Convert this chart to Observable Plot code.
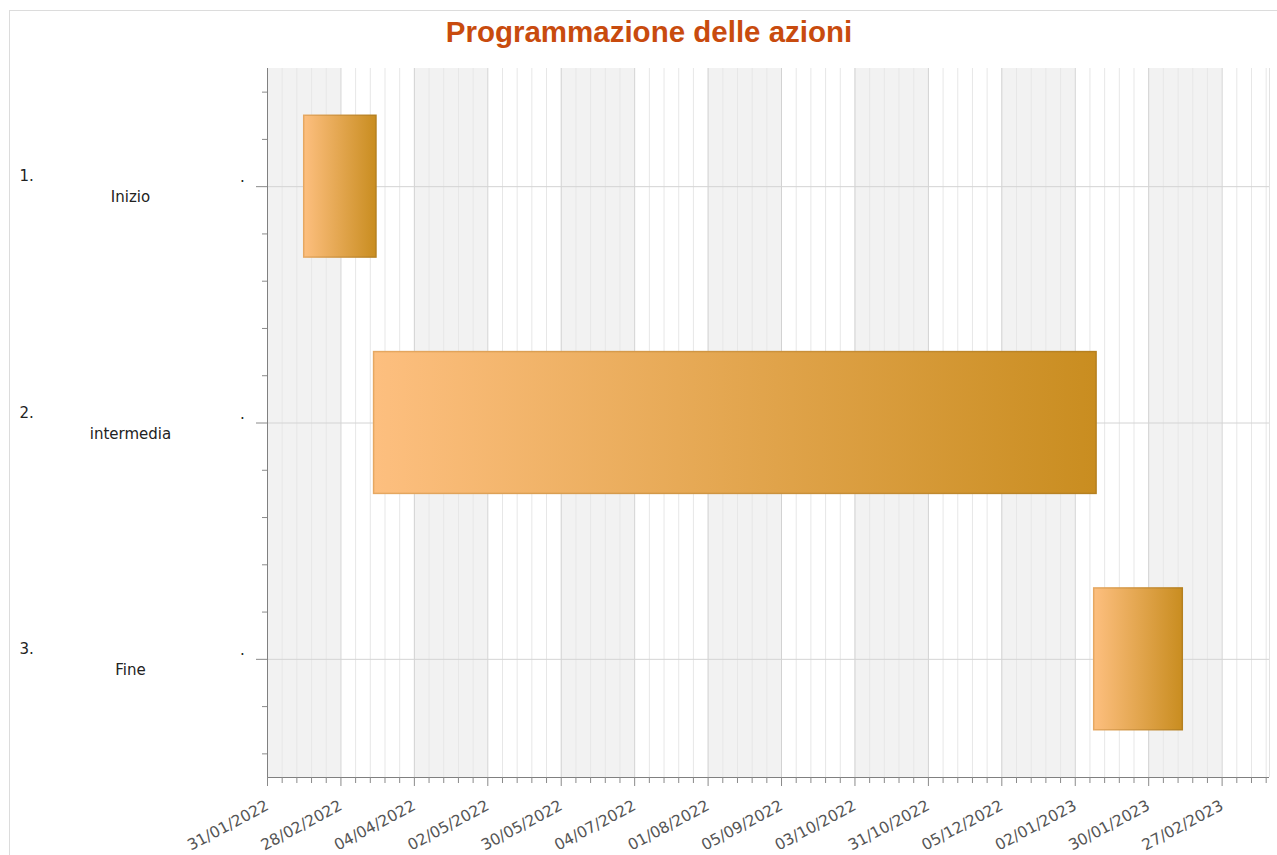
<!DOCTYPE html>
<html><head><meta charset="utf-8">
<script src="https://cdn.jsdelivr.net/npm/d3@7"></script>
<script src="https://cdn.jsdelivr.net/npm/@observablehq/plot@0.6"></script>
<style>
body{margin:0;background:#fff;}
#wrap{position:relative;width:1277px;height:855px;overflow:hidden;background:#fff;}
#frame{position:absolute;left:9px;top:10px;width:1300px;height:900px;border-top:1px solid #dcdcdc;border-left:1px solid #dcdcdc;pointer-events:none;}
#title{height:55px;box-sizing:border-box;padding-top:17px;padding-left:21px;text-align:center;font:bold 29.5px "Liberation Sans",Arial,sans-serif;color:#c84b0e;line-height:1;}
#chart svg{display:block;}
</style></head><body>
<div id="wrap"><div id="frame"></div><div id="title">Programmazione delle azioni</div><div id="chart"></div></div>
<script>
// ---- data ----
const taskNumbers = ["1.", "2.", "3."];
const taskNames = ["Inizio", "intermedia", "Fine"];
const startDates = ["2022-02-15", "2022-03-15", "2023-01-09"];
const endDates = ["2022-03-16", "2023-01-10", "2023-02-14"];
const tickLabels = ["31/01/2022","28/02/2022","04/04/2022","02/05/2022","30/05/2022","04/07/2022","01/08/2022","05/09/2022","03/10/2022","31/10/2022","05/12/2022","02/01/2023","30/01/2023","27/02/2023"];
const axisStart = "2022-02-01";
const axisEnd = "2023-03-21";

// the source axis gives every month the same width: convert dates to month positions
function toMonths(s) {
  const [y, m, d] = s.split("-").map(Number);
  const [y0, m0] = axisStart.split("-").map(Number);
  const days = new Date(y, m, 0).getDate();
  return (y - y0) * 12 + (m - m0) + (d - 1) / days;
}
const xMax = toMonths(axisEnd);
const rows = taskNames.map((name, i) => ({
  i, name, num: taskNumbers[i], start: toMonths(startDates[i]), end: toMonths(endDates[i])
}));
const majorX = tickLabels.map((_, i) => i);
const minorX = d3.range(0, Math.floor(xMax * 5) + 1).filter(k => k % 5 !== 0).map(k => k / 5);
const bandX = majorX.filter(i => i % 2 === 0);
const majorY = rows.map(r => r.i + 0.5);
const minorY = rows.flatMap(r => [0.1, 0.3, 0.7, 0.9].map(f => r.i + f));

const plot = Plot.plot({
  width: 1277,
  height: 800,
  marginTop: 13,
  marginBottom: 78,
  marginLeft: 267,
  marginRight: 8,
  style: {fontFamily: "'DejaVu Sans', Verdana, sans-serif", fontSize: "15px", background: "transparent"},
  x: {type: "linear", domain: [0, xMax]},
  y: {type: "linear", domain: [0, rows.length], reverse: true},
  marks: [
    Plot.rect(bandX, {x1: d => d, x2: d => Math.min(d + 1, xMax), fill: "#f2f2f2"}),
    Plot.gridX(minorX, {stroke: "#e7e7e7", strokeOpacity: 1}),
    Plot.gridX(majorX, {stroke: "#d2d2d2", strokeOpacity: 1}),
    Plot.gridX([xMax], {stroke: "#e2e2e2", strokeOpacity: 1}),
    Plot.gridY(majorY, {stroke: "#d4d4d4", strokeOpacity: 1}),
    Plot.rect(rows, {x1: "start", x2: "end", y1: d => d.i + 0.2, y2: d => d.i + 0.8, fill: "url(#barGrad)", stroke: "url(#barStroke)", strokeWidth: 1.5}),
    Plot.ruleX([0], {stroke: "#808080"}),
    Plot.ruleY([rows.length], {stroke: "#808080"}),
    Plot.axisX(majorX, {tickSize: 9, tickPadding: 18, tickRotate: -28, tickFormat: i => tickLabels[i], stroke: "#8a8a8a", fill: "#555", fontSize: 15.5, label: null}),
    Plot.axisX(minorX, {tickSize: 6, stroke: "#8a8a8a", fill: "none", label: null}),
    Plot.axisY(majorY, {tickSize: 11, stroke: "#8a8a8a", fill: "none", label: null}),
    Plot.axisY(minorY, {tickSize: 5, stroke: "#8a8a8a", fill: "none", label: null}),
    Plot.text(rows, {y: d => d.i + 0.5, text: "num", frameAnchor: "left", dx: -248, dy: -10, textAnchor: "start", fill: "#222", fontSize: 15}),
    Plot.text(rows, {y: d => d.i + 0.5, text: "name", frameAnchor: "left", dx: -137, dy: 11, textAnchor: "middle", fill: "#222", fontSize: 15}),
    Plot.text(rows, {y: d => d.i + 0.5, text: () => ".", frameAnchor: "left", dx: -25, dy: -9, textAnchor: "middle", fill: "#222", fontSize: 15})
  ]
});

const defs = d3.select(plot).insert("defs", ":first-child");
const g = defs.append("linearGradient").attr("id", "barGrad").attr("x1", 0).attr("x2", 1).attr("y1", 0).attr("y2", 0);
g.append("stop").attr("offset", 0).attr("stop-color", "#fdbf7f");
g.append("stop").attr("offset", 1).attr("stop-color", "#c98d20");
const gs = defs.append("linearGradient").attr("id", "barStroke").attr("x1", 0).attr("x2", 1).attr("y1", 0).attr("y2", 0);
gs.append("stop").attr("offset", 0).attr("stop-color", "#e6a862");
gs.append("stop").attr("offset", 1).attr("stop-color", "#b5801f");

document.getElementById("chart").appendChild(plot);
</script>
</body></html>
